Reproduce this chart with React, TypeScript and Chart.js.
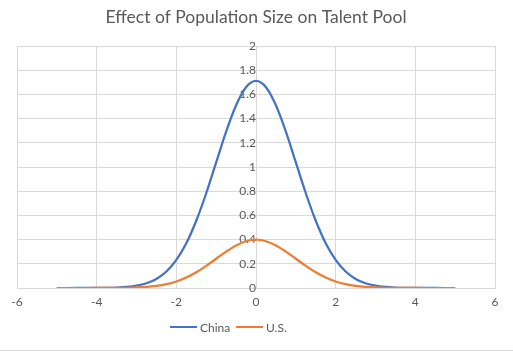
import React, { useEffect, useRef } from "react";
import { Chart, registerables } from "chart.js";

Chart.register(...registerables);

const TITLE = "Effect of Population Size on Talent Pool";
const SERIES_NAMES = ["China", "U.S."];
const SERIES_COLORS = ["#4472C4", "#ED7D31"];

const xValues = [
  -5, -4.75, -4.5, -4.25, -4, -3.75, -3.5, -3.25, -3, -2.75, -2.5, -2.25, -2, -1.75, -1.5, -1.25, -1, -0.75, -0.5, -0.25,
  0, 0.25, 0.5, 0.75, 1, 1.25, 1.5, 1.75, 2, 2.25, 2.5, 2.75, 3, 3.25, 3.5, 3.75, 4, 4.25, 4.5, 4.75, 5,
];

const chinaValues = [
  0, 0, 0.0001, 0.0002, 0.0006, 0.0015, 0.0037, 0.0087, 0.019, 0.039, 0.075, 0.136, 0.232, 0.37, 0.556, 0.783, 1.038, 1.292, 1.51, 1.659,
  1.711, 1.659, 1.51, 1.292, 1.038, 0.783, 0.556, 0.37, 0.232, 0.136, 0.075, 0.039, 0.019, 0.0087, 0.0037, 0.0015, 0.0006, 0.0002, 0.0001, 0, 0,
];

const usValues = [
  0, 0, 0, 0, 0.0001, 0.0004, 0.0009, 0.002, 0.0044, 0.0091, 0.0175, 0.0317, 0.054, 0.0863, 0.1295, 0.1826, 0.242, 0.3011, 0.3521, 0.3867,
  0.3989, 0.3867, 0.3521, 0.3011, 0.242, 0.1826, 0.1295, 0.0863, 0.054, 0.0317, 0.0175, 0.0091, 0.0044, 0.002, 0.0009, 0.0004, 0.0001, 0, 0, 0, 0,
];

const X_MIN = -6, X_MAX = 6, X_STEP = 2;
const Y_MIN = 0, Y_MAX = 2, Y_STEP = 0.2;

const FONT = "Lato, 'Open Sans', sans-serif";
const TEXT_COLOR = "#595959";
const GRID_COLOR = "#d9d9d9";

export default function App() {
  const ref = useRef<HTMLCanvasElement | null>(null);

  useEffect(() => {
    document.body.style.margin = "0";
    const ctx = ref.current!;
    const chart = new Chart(ctx, {
      type: "line",
      data: {
        datasets: [
          {
            label: SERIES_NAMES[1],
            data: xValues.map((x, i) => ({ x, y: usValues[i] })),
            borderColor: SERIES_COLORS[1],
            backgroundColor: SERIES_COLORS[1],
            borderWidth: 2.25,
            pointRadius: 0,
            cubicInterpolationMode: "monotone",
          },
          {
            label: SERIES_NAMES[0],
            data: xValues.map((x, i) => ({ x, y: chinaValues[i] })),
            borderColor: SERIES_COLORS[0],
            backgroundColor: SERIES_COLORS[0],
            borderWidth: 2.25,
            pointRadius: 0,
            cubicInterpolationMode: "monotone",
          },
        ],
      },
      options: {
        animation: false,
        responsive: false,
        maintainAspectRatio: false,
        layout: { padding: { left: 17, right: 18, top: 0, bottom: 0 } },
        plugins: {
          legend: { display: false },
          tooltip: { enabled: false },
          title: {
            display: true,
            text: TITLE,
            color: TEXT_COLOR,
            font: { family: FONT, size: 17.5, weight: "normal" },
            padding: { top: 7, bottom: 18 },
          },
        },
        scales: {
          x: {
            type: "linear",
            min: X_MIN,
            max: X_MAX,
            ticks: { stepSize: X_STEP, color: TEXT_COLOR, font: { family: FONT, size: 12 }, padding: 7, maxRotation: 0 },
            grid: { color: GRID_COLOR, drawTicks: false, lineWidth: 1 },
            border: { color: GRID_COLOR },
            afterFit: (s: any) => { s.height = 63; },
          },
          y: {
            type: "linear",
            min: Y_MIN,
            max: Y_MAX,
            position: { x: 0 } as any,
            ticks: {
              stepSize: Y_STEP,
              color: TEXT_COLOR,
              font: { family: FONT, size: 12 },
              padding: 8,
              callback: (v: any) => String(Math.round(Number(v) * 10) / 10),
            },
            grid: { color: GRID_COLOR, drawTicks: false, lineWidth: 1 },
            border: { color: GRID_COLOR },
          },
        },
      },
    });
    return () => chart.destroy();
  }, []);

  const legendItem = (i: number, left: number) => (
    <div key={i} style={{ position: "absolute", left, top: 319, height: 16, display: "flex", alignItems: "center" }}>
      <div style={{ width: 27, height: 2.5, background: SERIES_COLORS[i], marginRight: 3 }} />
      <span style={{ fontFamily: FONT, fontSize: 12, color: TEXT_COLOR }}>{SERIES_NAMES[i]}</span>
    </div>
  );

  return (
    <div style={{ position: "relative", width: 513, height: 351 }}>
      <canvas ref={ref} width={513} height={351} style={{ display: "block", width: 513, height: 351 }} />
      {legendItem(0, 170)}
      {legendItem(1, 236)}
      <div style={{ position: "absolute", left: 0, top: 350, width: 513, height: 1, background: GRID_COLOR }} />
    </div>
  );
}
